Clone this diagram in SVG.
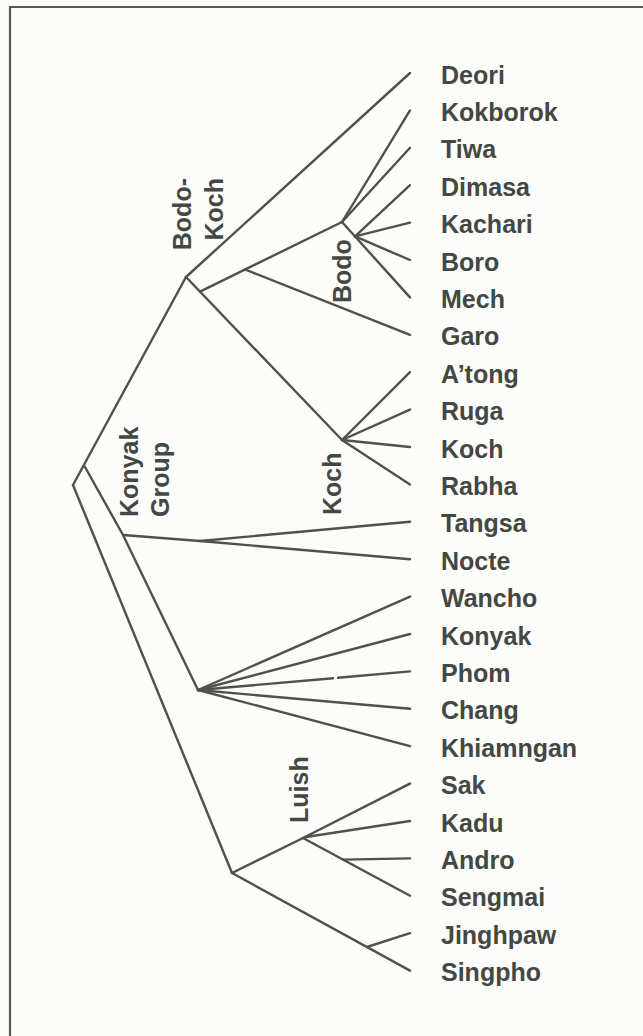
<svg xmlns="http://www.w3.org/2000/svg" width="643" height="1036" viewBox="0 0 643 1036">
<style>
.c line, .c polyline { stroke:#4d524d; stroke-width:2.4; fill:none; stroke-linecap:round; stroke-linejoin:round; }
.frame { stroke:#555a55; stroke-width:2.2; fill:none; }
text { font-family:"Liberation Sans", Arial, sans-serif; font-weight:bold; font-size:25px; fill:#434843; }
</style>
<rect x="0" y="0" width="643" height="1036" fill="#fcfcfa"/>
<polyline class="frame" points="10,1036 10,7 643,7"/>
<g id="connectors" class="c">
  <line x1="73" y1="485" x2="186" y2="277"/>
  <line x1="186" y1="277" x2="410" y2="73"/>
  <line x1="186" y1="277" x2="342" y2="440"/>
  <line x1="200" y1="291.6" x2="342" y2="222"/>
  <line x1="245" y1="269.5" x2="410" y2="334.8"/>
  <line x1="342" y1="222" x2="410" y2="110.4"/>
  <line x1="342" y1="222" x2="410" y2="147.8"/>
  <line x1="342" y1="222" x2="410" y2="297.4"/>
  <line x1="355" y1="236.4" x2="410" y2="185.2"/>
  <line x1="355" y1="236.4" x2="410" y2="222.6"/>
  <line x1="355" y1="236.4" x2="410" y2="260"/>
  <line x1="342" y1="440" x2="410" y2="372.2"/>
  <line x1="342" y1="440" x2="410" y2="409.6"/>
  <line x1="342" y1="440" x2="410" y2="447"/>
  <line x1="342" y1="440" x2="410" y2="484.4"/>
  <polyline points="85,467 123,535 198,690"/>
  <polyline points="123,535 200,541 410,521.8"/>
  <line x1="200" y1="541" x2="410" y2="559.2"/>
  <line x1="198" y1="690" x2="410" y2="596.6"/>
  <line x1="198" y1="690" x2="410" y2="634"/>
  <line x1="198" y1="690" x2="333" y2="678.2"/>
  <line x1="338" y1="677.8" x2="410" y2="671.4"/>
  <line x1="198" y1="690" x2="410" y2="708.8"/>
  <line x1="198" y1="690" x2="410" y2="746.2"/>
  <line x1="73" y1="485" x2="232" y2="873"/>
  <line x1="232" y1="873" x2="303" y2="838"/>
  <line x1="303" y1="838" x2="410" y2="783.6"/>
  <line x1="306" y1="837" x2="410" y2="821"/>
  <line x1="303" y1="838" x2="410" y2="895.8"/>
  <line x1="343" y1="859.6" x2="410" y2="858.4"/>
  <line x1="232" y1="873" x2="410" y2="970.6"/>
  <line x1="367" y1="947" x2="410" y2="933.2"/>
</g>
<g id="group-labels">
  <g id="bodo-koch"><text transform="translate(191,178) rotate(-90)" text-anchor="end">Bodo-</text><text transform="translate(223,178) rotate(-90)" text-anchor="end">Koch</text></g>
  <g id="bodo"><text transform="translate(351,303) rotate(-90)">Bodo</text></g>
  <g id="koch-group"><text transform="translate(341,515) rotate(-90)">Koch</text></g>
  <g id="konyak-group"><text transform="translate(138,517) rotate(-90)">Konyak</text><text transform="translate(169,517) rotate(-90)">Group</text></g>
  <g id="luish"><text transform="translate(308,823) rotate(-90)">Luish</text></g>
</g>
<g id="languages">
  <g id="n-deori"><text x="441" y="83.5">Deori</text></g>
  <g id="n-kokborok"><text x="441" y="120.9">Kokborok</text></g>
  <g id="n-tiwa"><text x="441" y="158.3">Tiwa</text></g>
  <g id="n-dimasa"><text x="441" y="195.7">Dimasa</text></g>
  <g id="n-kachari"><text x="441" y="233.1">Kachari</text></g>
  <g id="n-boro"><text x="441" y="270.5">Boro</text></g>
  <g id="n-mech"><text x="441" y="307.9">Mech</text></g>
  <g id="n-garo"><text x="441" y="345.3">Garo</text></g>
  <g id="n-atong"><text x="441" y="382.7">A’tong</text></g>
  <g id="n-ruga"><text x="441" y="420.1">Ruga</text></g>
  <g id="n-koch"><text x="441" y="457.5">Koch</text></g>
  <g id="n-rabha"><text x="441" y="494.9">Rabha</text></g>
  <g id="n-tangsa"><text x="441" y="532.3">Tangsa</text></g>
  <g id="n-nocte"><text x="441" y="569.7">Nocte</text></g>
  <g id="n-wancho"><text x="441" y="607.1">Wancho</text></g>
  <g id="n-konyak"><text x="441" y="644.5">Konyak</text></g>
  <g id="n-phom"><text x="441" y="681.9">Phom</text></g>
  <g id="n-chang"><text x="441" y="719.3">Chang</text></g>
  <g id="n-khiamngan"><text x="441" y="756.7">Khiamngan</text></g>
  <g id="n-sak"><text x="441" y="794.1">Sak</text></g>
  <g id="n-kadu"><text x="441" y="831.5">Kadu</text></g>
  <g id="n-andro"><text x="441" y="868.9">Andro</text></g>
  <g id="n-sengmai"><text x="441" y="906.3">Sengmai</text></g>
  <g id="n-jinghpaw"><text x="441" y="943.7">Jinghpaw</text></g>
  <g id="n-singpho"><text x="441" y="981.1">Singpho</text></g>
</g>
</svg>
